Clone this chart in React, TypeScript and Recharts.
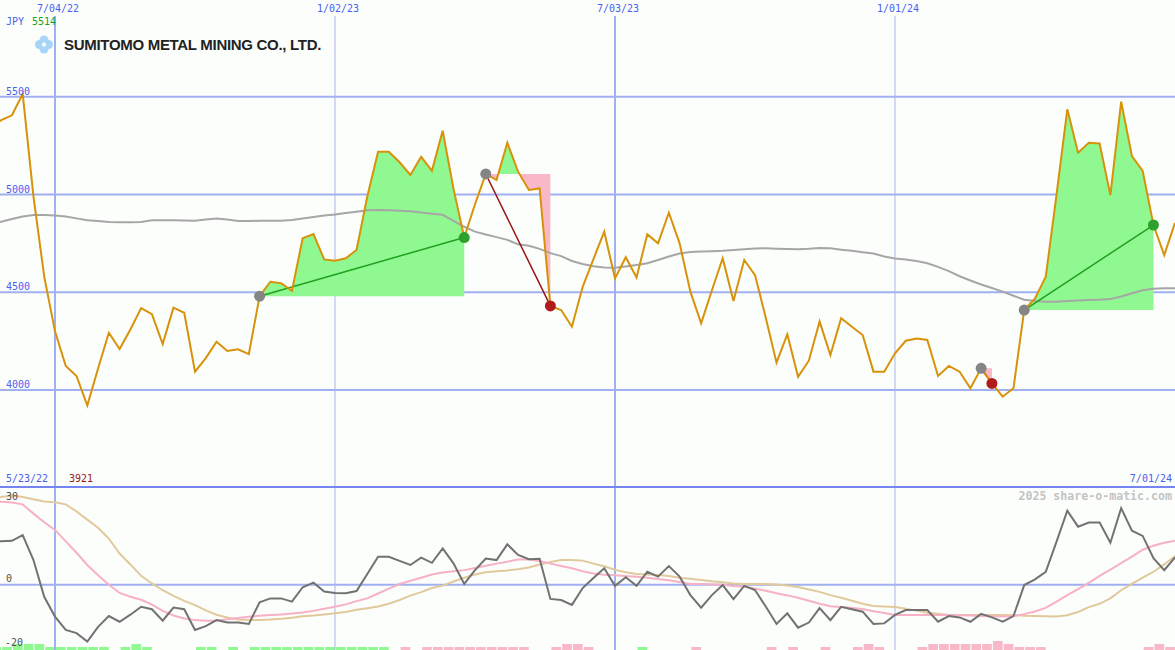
import React from 'react';
import {
  ComposedChart, Line, Area, XAxis, YAxis, CartesianGrid, ReferenceLine, Scatter, Bar, Cell,
} from 'recharts';

// ---------- data (weeks counted from 7/04/22; first value is week -6 = 5/23/22) ----------
const firstWeek = -6;
const companyName = 'SUMITOMO METAL MINING CO., LTD.';
const currency = 'JPY';
const startLabel = '5/23/22';
const endLabel = '7/01/24';
const copyright = '2025 share-o-matic.com';
const dateTickWeeks = [0, 26, 52, 78];
const dateTickLabels = ['7/04/22', '1/02/23', '7/03/23', '1/01/24'];
const priceTicks = [4000, 4500, 5000, 5500];
const oscTicks = [30, 0, -20];

const price = [
  5340, 5380, 5405, 5514, 4990, 4580, 4300, 4123, 4072, 3921,
  4110, 4293, 4210, 4310, 4419, 4388, 4235, 4421, 4395, 4094,
  4163, 4247, 4200, 4208, 4184, 4480, 4554, 4546, 4508, 4776,
  4798, 4668, 4661, 4674, 4716, 4990, 5219, 5219, 5165, 5100,
  5193, 5121, 5326, 5030, 4780, 4950, 5105, 5074, 5265, 5117,
  5023, 5031, 4430, 4409, 4324, 4528, 4670, 4810, 4571, 4679,
  4576, 4796, 4750, 4907, 4750, 4503, 4341, 4510, 4674, 4455,
  4665, 4588, 4370, 4140, 4285, 4068, 4150, 4350, 4179, 4367,
  4324, 4281, 4094, 4094, 4188, 4252, 4264, 4256, 4072, 4123,
  4094, 4009, 4111, 4034, 3966, 4009, 4409, 4469, 4580, 5000,
  5436, 5214, 5265, 5261, 4997, 5475, 5197, 5121, 4844, 4690,
  4855,
];

const priceMA = [
  4850, 4861, 4875, 4888, 4895, 4895, 4892, 4888, 4878, 4868,
  4864, 4860, 4858, 4858, 4860, 4868, 4868, 4868, 4867, 4866,
  4872, 4877, 4872, 4865, 4864, 4866, 4866, 4866, 4870, 4877,
  4885, 4893, 4898, 4905, 4912, 4920, 4921, 4920, 4917, 4914,
  4908, 4902, 4896, 4865, 4835, 4810, 4795, 4782, 4768, 4745,
  4738, 4722, 4700, 4685, 4660, 4645, 4633, 4627, 4625, 4632,
  4640, 4648, 4665, 4683, 4698, 4706, 4708, 4710, 4712, 4716,
  4720, 4724, 4725, 4723, 4721, 4720, 4722, 4726, 4725, 4718,
  4712, 4705, 4698, 4683, 4673, 4667, 4660, 4648, 4630, 4608,
  4582, 4560, 4540, 4522, 4503, 4482, 4462, 4455, 4452, 4452,
  4455, 4458, 4460, 4462, 4465, 4478, 4495, 4510, 4518, 4520,
  4520,
];

const oscFast = [
  16, 16, 16.2, 18.3, 9.1, -4.4, -11.7, -16.6, -17.8, -20.9,
  -15.5, -11.5, -13.6, -11, -8.1, -9, -13.2, -8.4, -9, -16.6,
  -15.2, -13, -13.9, -13.9, -14.4, -6.4, -5, -5, -6.2, -0.9,
  0.8, -2.5, -3, -3.1, -2.3, 4, 10.3, 10.3, 8.8, 7.3,
  10, 8.1, 13.4, 7.9, 0.3, 5.4, 9.7, 9.1, 14.9, 11,
  9.4, 9.6, -5.2, -5.6, -7.4, -1.2, 2.5, 6.1, -0.4, 2.8,
  -0.4, 4.8, 3, 6.9, 3, -3.8, -8.4, -3.8, -0.1, -5.3,
  -0.4, -1.9, -8, -14.4, -10.5, -15.8, -13.9, -8.6, -13, -8.1,
  -9, -9.9, -14.4, -14.2, -11.1, -9.3, -9.3, -9.3, -13.6, -11.5,
  -12, -13.6, -10.7, -12, -13.6, -11.5, -0.1, 2, 4.8, 15.9,
  27.3, 21.4, 22.9, 22.9, 15.5, 28.2, 19.9, 18, 9.8, 5.4,
  10.1,
];

const oscSignal = [
  31, 30.6, 30.3, 29.6, 26.2, 23, 20.2, 16, 11.8, 7.3,
  3.5, 0, -3, -4.4, -5.5, -7.3, -9.6, -11.3, -12.4, -13,
  -13.2, -13.1, -12.7, -12.2, -11.8, -11.4, -11.1, -10.9, -10.6, -10.2,
  -9.6, -8.8, -8.1, -7.2, -6, -5, -3.2, -1.4, 0.3, 1.5,
  2.6, 3.8, 4.5, 5, 5.4, 6.2, 7, 7.8, 8.5, 9.3,
  9.3, 8.8, 7.8, 6.9, 6.1, 5, 4.2, 3.7, 3.5, 3.2,
  3, 2.6, 2.1, 1.7, 1, 0.3, 0.3, 0.2, 0, -0.4,
  -0.7, -1.4, -2.2, -3.1, -3.9, -4.8, -5.9, -7, -7.9, -8.2,
  -8.5, -8.9, -9.7, -10.4, -11.1, -11.1, -11.1, -11.1, -11.1, -11.1,
  -11.2, -11.3, -11.5, -11.6, -11.7, -11.5, -10.8, -9.8, -8.5, -6.2,
  -3.8, -1.6, 0.7, 3.3, 5.6, 8, 10.4, 12.9, 14.4, 15.5,
  16.2,
];

const oscSlow = [
  31.5, 32.3, 32.9, 32.3, 31.5, 30.7, 30.4, 29.6, 27, 24,
  21, 17, 11.5, 7.5, 3.3, 0.5, -2, -4.1, -5.9, -7.5,
  -9.4, -11, -12, -12.8, -13, -13, -12.8, -12.5, -12.1, -11.6,
  -11.3, -10.9, -10.5, -10, -9.2, -8.6, -8, -7, -5.6, -4,
  -2.7, -1.2, -0.3, 1.2, 2.6, 3.8, 4.6, 5, 5.3, 5.7,
  6.4, 7.5, 8.4, 9.1, 9.1, 8.9, 7.8, 6.8, 5.5, 4.6,
  4, 3.8, 3.6, 3.2, 2.6, 2.2, 1.8, 1.3, 0.9, 0.5,
  0.3, 0.3, 0.3, 0.1, -0.3, -0.8, -1.7, -2.6, -3.8, -4.8,
  -5.9, -7, -7.8, -8, -8.2, -8.8, -9.5, -10.3, -10.7, -11.1,
  -11.1, -11.1, -11.1, -11.1, -11.1, -11.2, -11.4, -11.5, -11.6, -11.7,
  -11.2, -10, -8.2, -7, -5, -2, 0.3, 2.6, 4.8, 7.5,
  10.6,
];

// signed signal strength per week: + = green, - = pink
const signalLevels = [
  1, 1, 2, 2, 2, 1, 1, 1, 1, 1,
  1, 0, 1, 2, 1, 0, 0, 0, 0, 1,
  1, 0, 1, 0, 1, 1, 1, 1, 1, 1,
  1, 1, 1, 1, 1, 1, 1, 0, -1, 0,
  -1, -1, -1, -1, -1, -1, -1, -1, -1, -1,
  0, 0, -1, -2, -2, -1, 0, 0, 0, 0,
  1, 0, 0, 0, 0, -1, 0, 0, 0, 0,
  0, 0, -1, 0, -1, 0, 0, -1, 0, 0,
  -1, -2, -1, 0, 0, 0, -1, -2, -2, -2,
  -2, -2, -2, -3, -2, -1, -1, -1, 0, 0,
  0, 0, 0, 0, 0, 0, 0, -1, -2, -1,
  0,
];

const tradeEntryWeeks = [19, 40, 86, 90];
const tradeExitWeeks = [38, 46, 87, 102];

// ---------- styling ----------
const W = 1175;
const H = 650;
const MAIN_H = 487;
const OSC_H = 163;
const X_DOMAIN: [number, number] = [-5.107, 104];
const PRICE_DOMAIN: [number, number] = [3504, 5913];
const OSC_DOMAIN: [number, number] = [-24, 36];
const BG = '#fbfefb';
const GRID = '#a0b0f0';
const GRID_THIN = '#aab4ec';
const SEP = '#7484f0';
const BLUE_TXT = '#4a5ef0';
const FILL_UP = '#90f890';
const FILL_DOWN = '#f8b8c8';
const MONO = '"DejaVu Sans Mono", monospace';

// ---------- derived tables ----------
const weekOf = (i: number) => firstWeek + i;
const priceAt = (w: number) => price[w - firstWeek];
const majorWeeks = dateTickWeeks.filter((_, i) => i % 2 === 0);
const minorWeeks = dateTickWeeks.filter((_, i) => i % 2 === 1);

type Row = { w: number; price?: number; ma?: number; up?: [number, number]; down?: [number, number] };
const rowMap = new Map<number, Row>();
price.forEach((p, i) => rowMap.set(weekOf(i), { w: weekOf(i), price: p, ma: priceMA[i] }));
tradeEntryWeeks.forEach((a, k) => {
  const b = tradeExitWeeks[k];
  const base = priceAt(a);
  for (let w = a; w <= b; w++) {
    const p = priceAt(w);
    const row = rowMap.get(w)!;
    row.up = [base, Math.max(p, base)];
    row.down = [Math.min(p, base), base];
    if (w < b) {
      const q = priceAt(w + 1);
      if ((p - base) * (q - base) < 0) {
        const cw = w + (base - p) / (q - p);
        rowMap.set(cw, { w: cw, up: [base, base], down: [base, base] });
      }
    }
  }
});
const mainRows = Array.from(rowMap.values()).sort((a, b) => a.w - b.w);

const trades = tradeEntryWeeks.map((a, k) => {
  const b = tradeExitWeeks[k];
  return { a, b, pa: priceAt(a), pb: priceAt(b), win: priceAt(b) > priceAt(a) };
});
const entryPts = trades.map((t) => ({ w: t.a, v: t.pa }));
const winPts = trades.filter((t) => t.win).map((t) => ({ w: t.b, v: t.pb }));
const lossPts = trades.filter((t) => !t.win).map((t) => ({ w: t.b, v: t.pb }));

const oscRows = oscFast.map((v, i) => ({ w: weekOf(i), fast: v, sig: oscSignal[i], slow: oscSlow[i] }));
const barRows = signalLevels.map((s, i) => ({ x: weekOf(i) + 0.5, level: Math.abs(s), s }));

const maxPrice = Math.max(...price);
const minPrice = Math.min(...price);

const dot = (fill: string) => (p: any) => <circle cx={p.cx} cy={p.cy} r={5.5} fill={fill} />;

const DateTick = (p: any) => {
  const idx = dateTickWeeks.indexOf(p.payload.value);
  return (
    <text x={p.x + 3} y={12} textAnchor="middle" fill={BLUE_TXT} fontSize={10} fontFamily={MONO}>
      {dateTickLabels[idx]}
    </text>
  );
};
const PriceTick = (p: any) => (
  <text x={6} y={p.y - 2} fill={BLUE_TXT} fontSize={10} fontFamily={MONO}>{p.payload.value}</text>
);
const OscTick = (p: any) => (
  <text x={p.payload.value < 0 ? 5 : 6} y={p.payload.value < 0 ? p.y + 7 : p.y - 3} fill="#505050" fontSize={10} fontFamily={MONO}>
    {p.payload.value}
  </text>
);

const zero = { top: 0, right: 0, bottom: 0, left: 0 };

export default function App() {
  return (
    <div style={{ position: 'absolute', left: 0, top: 0, width: W, height: H, background: BG, overflow: 'hidden' }}>
      <div style={{ position: 'absolute', left: 0, top: 0 }}>
        <ComposedChart width={W} height={MAIN_H} data={mainRows} margin={zero}>
          <CartesianGrid horizontalValues={priceTicks} verticalValues={majorWeeks} stroke={GRID} strokeWidth={2} />
          <CartesianGrid horizontal={false} verticalValues={minorWeeks} stroke={GRID_THIN} strokeWidth={1} />
          <XAxis dataKey="w" type="number" orientation="top" height={16} domain={X_DOMAIN} allowDataOverflow
            ticks={dateTickWeeks} interval={0} axisLine={false} tickLine={false} tick={DateTick} />
          <YAxis type="number" domain={PRICE_DOMAIN} allowDataOverflow ticks={priceTicks} mirror
            axisLine={false} tickLine={false} tick={PriceTick} />
          <Area dataKey="down" fill={FILL_DOWN} fillOpacity={1} stroke="none" isAnimationActive={false} />
          <Area dataKey="up" fill={FILL_UP} fillOpacity={1} stroke="none" isAnimationActive={false} />
          <Line dataKey="ma" stroke="#a6a6a6" strokeWidth={2} dot={false} connectNulls isAnimationActive={false} />
          {trades.map((t, i) => (
            <ReferenceLine key={i} segment={[{ x: t.a, y: t.pa }, { x: t.b, y: t.pb }]}
              stroke={t.win ? '#20a020' : '#9a1414'} strokeWidth={1.5} />
          ))}
          <Scatter data={entryPts} dataKey="v" shape={dot('#858585')} isAnimationActive={false} />
          <Line dataKey="price" stroke="#d8920a" strokeWidth={2} dot={false} connectNulls isAnimationActive={false} />
          <Scatter data={winPts} dataKey="v" shape={dot('#2ea02e')} isAnimationActive={false} />
          <Scatter data={lossPts} dataKey="v" shape={dot('#b01c1c')} isAnimationActive={false} />
        </ComposedChart>
      </div>
      <div style={{ position: 'absolute', left: 0, top: MAIN_H }}>
        <ComposedChart width={W} height={OSC_H} data={barRows} margin={zero} barCategoryGap={0}>
          <XAxis dataKey="x" type="number" hide domain={X_DOMAIN} allowDataOverflow />
          <YAxis type="number" hide domain={[0, OSC_H / 3]} allowDataOverflow />
          <Bar dataKey="level" barSize={11} isAnimationActive={false}>
            {barRows.map((r, i) => <Cell key={i} fill={r.s > 0 ? FILL_UP : FILL_DOWN} />)}
          </Bar>
        </ComposedChart>
      </div>
      <div style={{ position: 'absolute', left: 0, top: MAIN_H }}>
        <ComposedChart width={W} height={OSC_H} data={oscRows} margin={zero}>
          <CartesianGrid horizontalValues={[0]} verticalValues={majorWeeks} stroke={GRID} strokeWidth={2} />
          <CartesianGrid horizontal={false} verticalValues={minorWeeks} stroke={GRID_THIN} strokeWidth={1} />
          <XAxis dataKey="w" type="number" hide domain={X_DOMAIN} allowDataOverflow />
          <YAxis type="number" domain={OSC_DOMAIN} allowDataOverflow ticks={oscTicks} mirror
            axisLine={false} tickLine={false} tick={OscTick} />
          <Line dataKey="slow" stroke="#e2c99c" strokeWidth={2} dot={false} isAnimationActive={false} />
          <Line dataKey="sig" stroke="#f7b0c6" strokeWidth={2} dot={false} isAnimationActive={false} />
          <Line dataKey="fast" stroke="#727272" strokeWidth={2} dot={false} isAnimationActive={false} />
        </ComposedChart>
      </div>
      <div style={{ position: 'absolute', left: 0, top: MAIN_H - 1, width: W, height: 2, background: SEP }} />
      <svg width={W} height={H} style={{ position: 'absolute', left: 0, top: 0, pointerEvents: 'none' }}>
        <text x={6} y={25} fill={BLUE_TXT} fontSize={10} fontFamily={MONO}>{currency}</text>
        <text x={32} y={25} fill="#18a018" fontSize={10} fontFamily={MONO}>{maxPrice}</text>
        <g fill="#a8d4f8">
          <circle cx={39.5} cy={44.5} r={4.5} />
          <circle cx={48.5} cy={44.5} r={4.5} />
          <circle cx={44} cy={40} r={4.5} />
          <circle cx={44} cy={49} r={4.5} />
        </g>
        <path d="M44 42 L46.5 44.5 L44 47 L41.5 44.5 Z" fill="#ffffff" />
        <text x={64} y={50} fill="#222222" fontSize={15} fontWeight="bold" letterSpacing={-0.3}
          fontFamily='"Liberation Sans", Arial, sans-serif'>{companyName}</text>
        <text x={6} y={482} fill={BLUE_TXT} fontSize={10} fontFamily={MONO}>{startLabel}</text>
        <text x={69} y={482} fill="#a01818" fontSize={10} fontFamily={MONO}>{minPrice}</text>
        <text x={1172} y={482} textAnchor="end" fill={BLUE_TXT} fontSize={10} fontFamily={MONO}>{endLabel}</text>
        <text x={1172} y={500} textAnchor="end" fill="#c4c4c4" fontSize={11.6} fontWeight="bold" fontFamily={MONO}>{copyright}</text>
      </svg>
    </div>
  );
}
